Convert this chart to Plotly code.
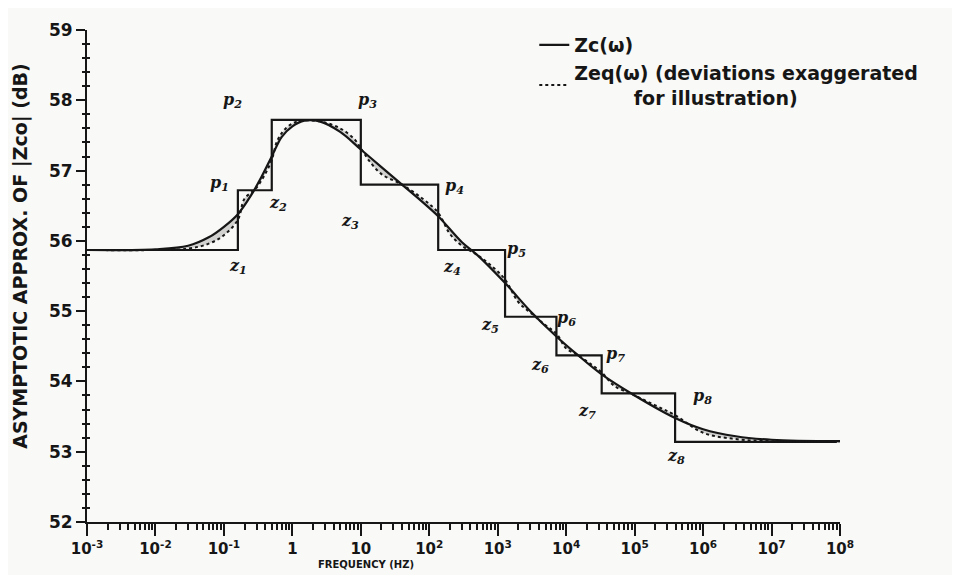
import plotly.graph_objects as go

# asymptotic staircase (corner frequencies in Hz, level in dB)
step_freq = [1e-3, 0.16, 0.5, 10, 135, 1280, 7200, 33000, 390000, 9e7]
step_db = [55.87, 56.72, 57.72, 56.80, 55.87, 54.92, 54.37, 53.83, 53.14, 53.14]

# smooth Zc(w)
zc_freq = [1e-3, 1e-2, 0.03, 0.06, 0.1, 0.16, 0.25, 0.35, 0.5, 0.7, 1.0, 1.5, 2.5, 5,
           10, 20, 40, 80, 135, 300, 500, 1280, 3000, 7200, 15000, 33000, 1e5, 390000,
           1e6, 3e6, 1e7, 1e8]
zc_db = [55.87, 55.88, 55.93, 56.05, 56.20, 56.38, 56.65, 56.90, 57.20, 57.48, 57.63, 57.71,
         57.70, 57.55, 57.30, 57.05, 56.80, 56.55, 56.35, 55.98, 55.80, 55.40, 55.00, 54.64,
         54.37, 54.10, 53.80, 53.48, 53.32, 53.22, 53.17, 53.15]

# Zeq(w), deviations exaggerated
zeq_freq = [1e-3, 1e-2, 0.03, 0.06, 0.1, 0.16, 0.2, 0.29, 0.4, 0.5, 0.6, 0.8, 1.2, 2.5, 5,
            8, 10, 13, 20, 40, 80, 135, 200, 300, 500, 800, 1280, 2000, 3000, 5000, 7200,
            10000, 15000, 25000, 33000, 50000, 1e5, 2e5, 390000, 1e6, 3e6, 1e7, 1e8]
zeq_db = [55.87, 55.87, 55.89, 55.96, 56.08, 56.30, 56.60, 56.74, 56.95, 57.15, 57.42, 57.60,
          57.70, 57.70, 57.60, 57.45, 57.32, 57.15, 56.95, 56.80, 56.60, 56.40, 56.10, 55.93,
          55.80, 55.65, 55.45, 55.13, 54.98, 54.80, 54.68, 54.47, 54.37, 54.22, 54.13, 53.94,
          53.80, 53.66, 53.52, 53.27, 53.18, 53.15, 53.15]

# hand-written corner labels (log10 of frequency, dB)
label_text = ["p<sub>1</sub>", "z<sub>1</sub>", "p<sub>2</sub>", "z<sub>2</sub>",
              "p<sub>3</sub>", "z<sub>3</sub>", "p<sub>4</sub>", "z<sub>4</sub>",
              "p<sub>5</sub>", "z<sub>5</sub>", "p<sub>6</sub>", "z<sub>6</sub>",
              "p<sub>7</sub>", "z<sub>7</sub>", "p<sub>8</sub>", "z<sub>8</sub>"]
label_logf = [-1.06, -0.79, -0.87, -0.21, 1.1, 0.84, 2.37, 2.33,
              3.27, 2.89, 4.0, 3.62, 4.72, 4.3, 5.99, 5.61]
label_db = [56.82, 55.63, 58.0, 56.53, 58.0, 56.27, 56.77, 55.62,
            55.87, 54.79, 54.89, 54.22, 54.39, 53.57, 53.79, 52.93]

x_tickvals = [1e-3, 1e-2, 1e-1, 1, 10, 1e2, 1e3, 1e4, 1e5, 1e6, 1e7, 1e8]
x_ticktext = ["10<sup>-3</sup>", "10<sup>-2</sup>", "10<sup>-1</sup>", "1", "10",
              "10<sup>2</sup>", "10<sup>3</sup>", "10<sup>4</sup>", "10<sup>5</sup>",
              "10<sup>6</sup>", "10<sup>7</sup>", "10<sup>8</sup>"]
y_tickvals = [52, 53, 54, 55, 56, 57, 58, 59]

ink = "#161616"
paper = "#f9f9f7"
font = "DejaVu Sans"

fig = go.Figure()

# shaded deviation between Zc and Zeq
fig.add_trace(go.Scatter(x=zc_freq, y=zc_db, mode="lines", line=dict(width=0, shape="spline"),
                         showlegend=False, hoverinfo="skip"))
fig.add_trace(go.Scatter(x=zeq_freq, y=zeq_db, mode="lines", line=dict(width=0, shape="spline"),
                         fill="tonexty", fillcolor="rgba(90,90,90,0.25)",
                         showlegend=False, hoverinfo="skip"))

fig.add_trace(go.Scatter(x=step_freq, y=step_db, mode="lines",
                         line=dict(color=ink, width=2.2, shape="hv"), showlegend=False))

fig.add_trace(go.Scatter(x=zc_freq, y=zc_db, mode="lines", name="Zc(ω)",
                         line=dict(color=ink, width=2.2, shape="spline")))
fig.add_trace(go.Scatter(x=zeq_freq, y=zeq_db, mode="lines",
                         name="Zeq(ω) (deviations exaggerated<br>\u00a0\u00a0\u00a0\u00a0\u00a0\u00a0\u00a0\u00a0\u00a0for illustration)",
                         line=dict(color=ink, width=2, dash="dot", shape="spline")))

# invisible trace so the crossing minor ticks of the overlay axis get drawn
fig.add_trace(go.Scatter(x=[1e-3], y=[52], yaxis="y2", mode="markers", marker=dict(opacity=0),
                         showlegend=False, hoverinfo="skip"))

for t, lx, ly in zip(label_text, label_logf, label_db):
    fig.add_annotation(x=lx, y=ly, xref="x", yref="y", text="<b><i>" + t + "</i></b>",
                       showarrow=False, font=dict(family="DejaVu Serif", size=16, color=ink))

fig.add_annotation(xref="paper", yref="paper", x=0, xshift=-80, y=0.54, textangle=-90,
                   text="ASYMPTOTIC APPROX. OF |Zco| (dB)", showarrow=False,
                   font=dict(family=font, size=19, color=ink, weight="bold"))
fig.add_annotation(xref="paper", yref="paper", x=0.37, y=-0.087, yanchor="middle",
                   text="FREQUENCY (HZ)", showarrow=False,
                   font=dict(family=font, size=10, color=ink, weight="bold"))

fig.update_xaxes(type="log", range=[-3, 8], tickmode="array", tickvals=x_tickvals,
                 ticktext=x_ticktext, showgrid=False, zeroline=False, showline=True,
                 linecolor=ink, linewidth=2, ticks="outside", ticklen=12, tickwidth=2,
                 tickcolor=ink, tickfont=dict(family=font, size=15, color=ink, weight="bold"),
                 minor=dict(ticks="outside", ticklen=6, tickwidth=1.5, tickcolor=ink,
                            dtick="D1", showgrid=False))
fig.update_yaxes(range=[52, 59], tickmode="array", tickvals=y_tickvals, showgrid=False,
                 zeroline=False, showline=True, linecolor=ink, linewidth=2, ticks="outside",
                 ticklen=9, tickwidth=2, tickcolor=ink,
                 tickfont=dict(family=font, size=17, color=ink, weight="bold"),
                 minor=dict(ticks="outside", ticklen=3, tickwidth=1.5, tickcolor=ink,
                            dtick=0.2, showgrid=False))

fig.update_layout(
    width=960, height=575,
    margin=dict(l=79, r=128, t=13, b=61),
    paper_bgcolor=paper, plot_bgcolor=paper,
    showlegend=True,
    yaxis2=dict(overlaying="y", range=[52, 59], showgrid=False, zeroline=False,
                showticklabels=False, ticks="", showline=False,
                minor=dict(ticks="inside", ticklen=3, tickwidth=1.5, tickcolor=ink,
                           dtick=0.2, showgrid=False)),
    legend=dict(x=0.594, y=1.008, xanchor="left", yanchor="top", bgcolor="rgba(0,0,0,0)",
                traceorder="normal", font=dict(family=font, size=19, color=ink, weight="bold"),
                tracegroupgap=0),
)

fig.write_html("out.html")
